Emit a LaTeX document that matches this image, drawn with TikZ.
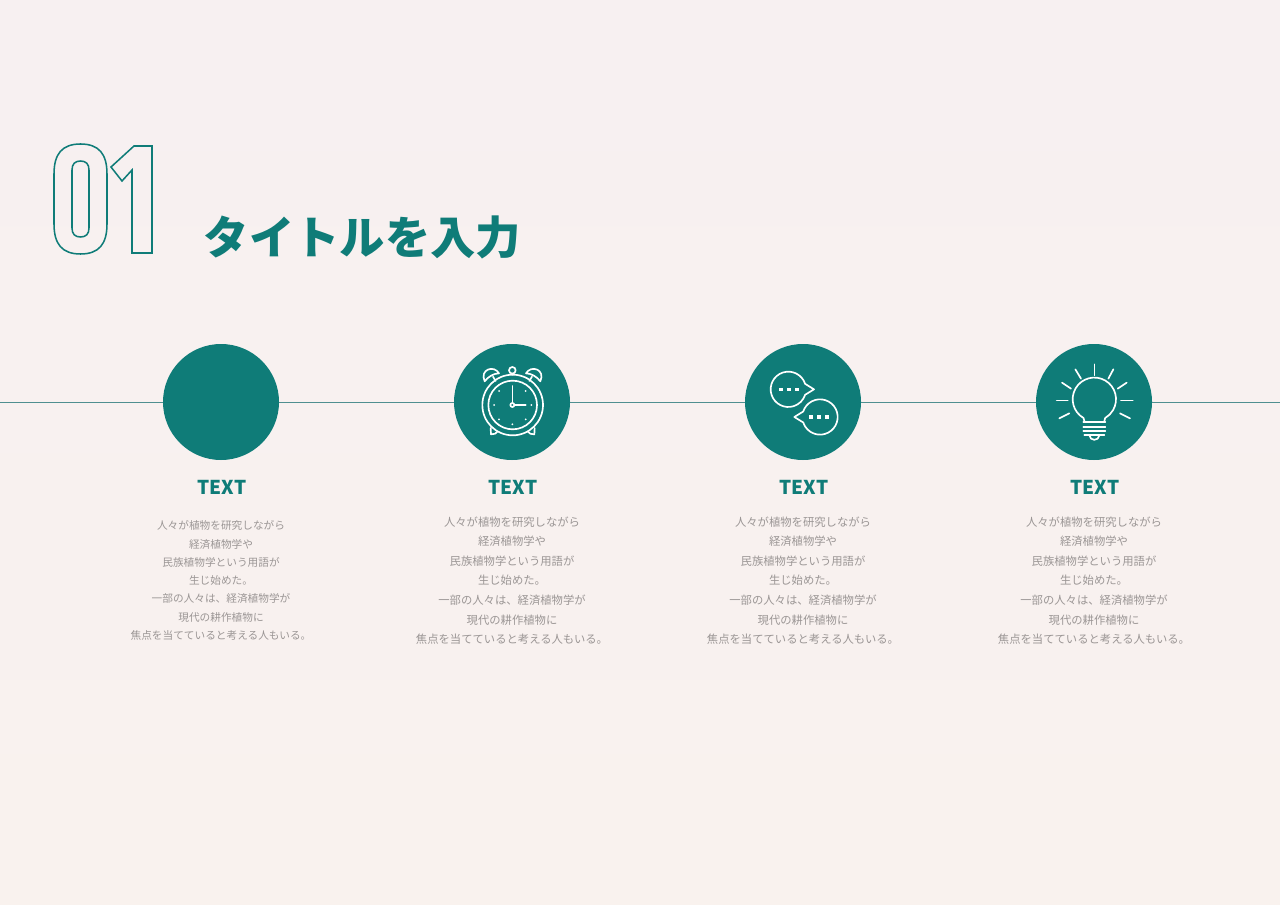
\documentclass[tikz,border=0pt]{standalone}
\usepackage{fontspec}
\usepackage{tikz}
\newfontfamily\jpfont{Noto Sans CJK JP}
\newfontfamily\jpheavy{Noto Sans CJK JP Black}
\definecolor{teal1}{HTML}{0F7C78}
\definecolor{bodygray}{HTML}{9B9695}
\definecolor{linegray}{HTML}{4F8F90}
\newcommand{\bodylines}{人々が植物を研究しながら\\経済植物学や\\民族植物学という用語が\\生じ始めた。\\一部の人々は、経済植物学が\\現代の耕作植物に\\焦点を当てていると考える人もいる。}
\tikzset{
  dot/.style={circle,fill=teal1,draw=none,minimum size=87pt,inner sep=0pt},
  headtext/.style={text=teal1,font={\jpfont\bfseries\fontsize{14.3}{18}\selectfont}},
  bodytext/.style={text=bodygray,align=center,font={\jpfont\fontsize{8.5}{14.7}\selectfont}},
  bodysmall/.style={text=bodygray,align=center,font={\jpfont\fontsize{8}{13.7}\selectfont}},
  icon/.style={draw=white,line width=1.25pt,line cap=round,line join=round}
}
\begin{document}
\begin{tikzpicture}[x=0.75pt,y=-0.75pt]
\useasboundingbox (0,0) rectangle (1280,905);
% background
\fill [top color={rgb,255:red,247;green,240;blue,241}, bottom color={rgb,255:red,249;green,242;blue,238}] (0,0) rectangle (1280,905);
% number
\draw [draw=teal1,line width=1.15pt] (54,174) .. controls (54,154) and (62,144) .. (80.5,144) .. controls (99,144) and (107,154) .. (107,174) -- (107,224) .. controls (107,244) and (99,254) .. (80.5,254) .. controls (62,254) and (54,244) .. (54,224) -- cycle;
\draw [draw=teal1,line width=1.15pt] (72,170) .. controls (72,164) and (75,161) .. (80.5,161) .. controls (86,161) and (89,164) .. (89,170) -- (89,228) .. controls (89,234) and (86,237) .. (80.5,237) .. controls (75,237) and (72,234) .. (72,228) -- cycle;
\draw [draw=teal1,line width=1.15pt,line join=miter] (134,146) -- (152,146) -- (152,253) -- (132,253) -- (132,170) -- (122,181) -- (111,167) -- cycle;
% title
\node (title) [anchor=west,text=teal1,font={\jpheavy\fontsize{34}{40}\selectfont}] at (199,237) {タイトルを入力};
% circles
\coordinate (lineL) at (0,402);
\coordinate (lineR) at (1280,402);
\foreach \n/\x in {A/221,B/512,C/803,D/1094}
{
\node (circ\n) [dot] at (\x,402) {};
\node (head\n) [headtext] at (\x+1,487) {TEXT};
}
% axis
\draw [draw=linegray,line width=0.6pt] (lineL) -- (circA) (circA) -- (circB) (circB) -- (circC) (circC) -- (circD) (circD) -- (lineR);
% text
\node (bodyA) [bodysmall] at (221,580.5) {\bodylines};
\foreach \n/\x in {B/512,C/803,D/1094}
{
\node (body\n) [bodytext] at (\x,580.5) {\bodylines};
}
% clock
\begin{scope}[shift={(444,336)},scale=1/3,icon]
\draw (206,207) circle [radius=91];
\draw (206,207) circle [radius=73];
\draw (205,103) circle [radius=10];
\draw (205,113) -- (205,116);
\draw (205,150) -- (205,200);
\draw (212,207) -- (245,207);
\draw (205,207) circle [radius=6];
\foreach \i/\j in {150/207,262/207,205/265,165/165,245/165,165/250,245/250}
{
\fill [white,draw=none] (\i,\j) circle [radius=3];
}
% bells
\draw (122,136) .. controls (106,100) and (150,86) .. (165,112) .. controls (150,112) and (132,122) .. (122,136) -- cycle;
\draw (289,136) .. controls (305,100) and (261,86) .. (246,112) .. controls (261,112) and (279,122) .. (289,136) -- cycle;
\draw (147,122) -- (155,135);
\draw (264,122) -- (256,135);
% feet
\draw (140,276) -- (141,295) .. controls (150,298) and (158,290) .. (160,287);
\draw (272,276) -- (271,295) .. controls (262,298) and (254,290) .. (252,287);
\end{scope}
% speech bubbles
\begin{scope}[shift={(735,336)},scale=1/3,icon]
\draw (210.4,143.6) arc [start angle=-18,end angle=-342,radius=53] -- (237,160) -- cycle;
\draw (204.6,226.6) arc [start angle=198,end angle=522,radius=53] -- (178,243) -- cycle;
\foreach \i/\j in {138/161,162/161,186/161,228/243,252/243,276/243}
{
\fill [white,draw=none] (\i-5,\j-5) rectangle ++(10,10);
}
\end{scope}
% bulb
\begin{scope}[shift={(1026,336)},scale=1/3,icon]
\draw (175,255) -- (172.5,246) arc [start angle=120,end angle=420,radius=65] -- (235,255);
\draw (172,257) -- (238,257);
\draw (172,272) -- (238,272);
\draw (172,285) -- (238,285);
\draw (175,297) -- (235,297);
\draw (190,298) .. controls (192,316) and (218,316) .. (220,298);
\foreach \a/\b/\c/\d in {205/85/205/118,148/100/165/128,262/100/247/128,108/140/135/158,302/140/275/158,92/193/125/193,285/193/320/193,100/247/130/232,282/232/312/247}
{
\draw (\a,\b) -- (\c,\d);
}
\end{scope}
\end{tikzpicture}
\end{document}
